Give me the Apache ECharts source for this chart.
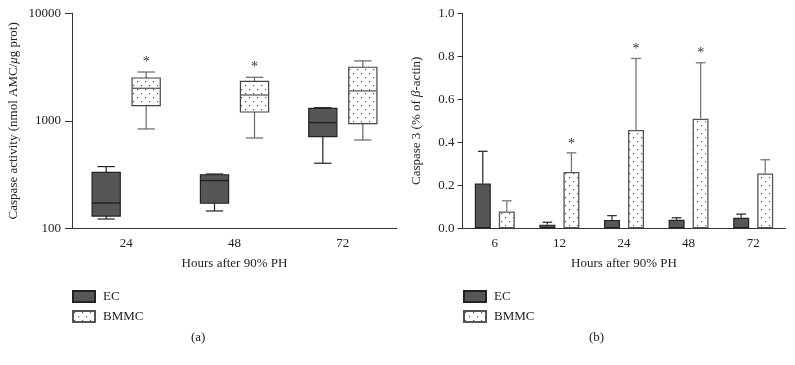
<!DOCTYPE html>
<html><head><meta charset="utf-8">
<script src="https://cdn.jsdelivr.net/npm/echarts@6/dist/echarts.min.js"></script>
<style>html,body{margin:0;padding:0;background:#fff}#c{width:795px;height:365px}</style>
</head><body><div id="c"></div>
<script>
// ---- Panel (a): caspase activity box plots (min, Q1, median, Q3, max) ----
const hoursA = ['24', '48', '72'];
const ecBox = [
  [122, 130, 172, 332, 375],
  [145, 171, 278, 315, 320],
  [403, 713, 961, 1306, 1324]
];
const bmmcBox = [
  [840, 1384, 2005, 2500, 2844],
  [692, 1208, 1738, 2330, 2540],
  [663, 942, 1897, 3148, 3606]
];
const sigA = [1, 1, 0];
const yTicksA = [100, 1000, 10000];

// ---- Panel (b): caspase 3 bars (mean) and upper error ----
const hoursB = ['6', '12', '24', '48', '72'];
const ecMean = [0.208, 0.017, 0.039, 0.040, 0.049];
const ecErr = [0.358, 0.028, 0.059, 0.049, 0.066];
const bmmcMean = [0.078, 0.262, 0.457, 0.510, 0.255];
const bmmcErr = [0.128, 0.351, 0.790, 0.770, 0.319];
const sigB = [0, 1, 1, 1, 0];

const FONT = '"Liberation Serif", "DejaVu Serif", serif';
const DARK = '#565656';

function makeDots() {
  const c = document.createElement('canvas');
  c.width = 8; c.height = 8;
  const g = c.getContext('2d');
  g.fillStyle = '#ffffff'; g.fillRect(0, 0, 8, 8);
  g.fillStyle = '#555555';
  g.fillRect(1, 1, 1.2, 1.2);
  g.fillRect(5, 5, 1.2, 1.2);
  return c;
}
const dots = makeDots();
const dotFill = { image: dots, repeat: 'repeat' };

function boxRender(offRatio, isB, sig) {
  return function (params, api) {
    const ci = api.value(0);
    const band = api.size([1, 0])[0];
    const cx = api.coord([ci, api.value(3)])[0] + band * offRatio;
    const w = band * 0.26;
    const cap = band * 0.16;
    const y = (i) => api.coord([ci, api.value(i)])[1];
    const yMin = y(1), yQ1 = y(2), yMed = y(3), yQ3 = y(4), yMax = y(5);
    const lineCol = isB ? '#666' : '#222';
    const ls = { stroke: lineCol, lineWidth: 1.2 };
    const children = [
      { type: 'line', shape: { x1: cx, y1: yMax, x2: cx, y2: yQ3 }, style: ls },
      { type: 'line', shape: { x1: cx, y1: yQ1, x2: cx, y2: yMin }, style: ls },
      { type: 'line', shape: { x1: cx - cap / 2, y1: yMax, x2: cx + cap / 2, y2: yMax }, style: ls },
      { type: 'line', shape: { x1: cx - cap / 2, y1: yMin, x2: cx + cap / 2, y2: yMin }, style: ls },
      { type: 'rect', shape: { x: cx - w / 2, y: yQ3, width: w, height: yQ1 - yQ3 },
        style: { fill: isB ? dotFill : DARK, stroke: isB ? '#444' : '#222', lineWidth: 1.2 } },
      { type: 'line', shape: { x1: cx - w / 2, y1: yMed, x2: cx + w / 2, y2: yMed },
        style: { stroke: isB ? '#666' : '#222', lineWidth: 1.4 } }
    ];
    if (sig && sig[ci]) {
      children.push({ type: 'text', style: { text: '*', x: cx, y: yMax - 3, align: 'center', verticalAlign: 'bottom',
        font: '14px ' + FONT, fill: '#333' } });
    }
    return { type: 'group', children };
  };
}

function errRender(offRatio, isB, sig) {
  return function (params, api) {
    const ci = api.value(0);
    const band = api.size([1, 0])[0];
    const p1 = api.coord([ci, api.value(1)]);
    const p2 = api.coord([ci, api.value(2)]);
    const cx = p1[0] + band * offRatio;
    const cap = band * 0.15;
    const ls = { stroke: isB ? '#777' : '#333', lineWidth: 1.3 };
    const children = [
      { type: 'line', shape: { x1: cx, y1: p1[1], x2: cx, y2: p2[1] }, style: ls },
      { type: 'line', shape: { x1: cx - cap / 2, y1: p2[1], x2: cx + cap / 2, y2: p2[1] }, style: ls }
    ];
    if (sig && sig[ci]) {
      children.push({ type: 'text', style: { text: '*', x: cx, y: p2[1] - 2, align: 'center', verticalAlign: 'bottom',
        font: '14px ' + FONT, fill: '#333' } });
    }
    return { type: 'group', children, z2: 10 };
  };
}

const axisLine = { lineStyle: { color: '#333', width: 1 } };
const txt = { fontFamily: FONT, color: '#222', fontSize: 13 };

const chart = echarts.init(document.getElementById('c'), null, { renderer: 'canvas' });
chart.setOption({
  animation: false,
  backgroundColor: '#fff',
  grid: [
    { left: 72, top: 13.3, width: 325, height: 215 },
    { left: 462.5, top: 13.3, width: 323, height: 215 }
  ],
  xAxis: [
    { gridIndex: 0, type: 'category', data: hoursA, axisLine, axisTick: { alignWithLabel: true, length: 5, lineStyle: { color: '#333' } },
      axisLabel: { ...txt, margin: 9 }, name: 'Hours after 90% PH', nameLocation: 'middle', nameGap: 29, nameTextStyle: { ...txt } },
    { gridIndex: 1, type: 'category', data: hoursB, axisLine, axisTick: { alignWithLabel: true, length: 5, lineStyle: { color: '#333' } },
      axisLabel: { ...txt, margin: 9 }, name: 'Hours after 90% PH', nameLocation: 'middle', nameGap: 29, nameTextStyle: { ...txt } }
  ],
  yAxis: [
    { gridIndex: 0, type: 'log', logBase: 10, min: yTicksA[0], max: yTicksA[yTicksA.length - 1],
      axisLine: { show: true, ...axisLine }, axisTick: { show: true, length: 7, lineStyle: { color: '#333' } },
      minorTick: { show: false }, splitLine: { show: false },
      axisLabel: { ...txt, margin: 11, formatter: (v) => String(Math.round(v)) },
      name: 'Caspase activity (nmol AMC/{i|μ}g prot)', nameLocation: 'middle', nameGap: 52,
      nameTextStyle: { ...txt, rich: { i: { ...txt, fontStyle: 'italic' } } } },
    { gridIndex: 1, type: 'value', min: 0, max: 1, interval: 0.2,
      axisLine: { show: true, ...axisLine }, axisTick: { show: true, length: 5, lineStyle: { color: '#333' } },
      splitLine: { show: false },
      axisLabel: { ...txt, margin: 8, formatter: (v) => v.toFixed(1) },
      name: 'Caspase 3 (% of {i|β}-actin)', nameLocation: 'middle', nameGap: 39,
      nameTextStyle: { ...txt, rich: { i: { ...txt, fontStyle: 'italic' } } } }
  ],
  legend: [
    { left: 72, top: 290, orient: 'vertical', padding: 0, itemWidth: 22, itemHeight: 11, itemGap: 7,
      icon: 'rect', data: ['EC', 'BMMC'], textStyle: { ...txt, padding: [0, 0, 0, 3] }, selectedMode: false },
    { left: 463, top: 290, orient: 'vertical', padding: 0, itemWidth: 22, itemHeight: 11, itemGap: 7,
      icon: 'rect', data: ['EC', 'BMMC'], textStyle: { ...txt, padding: [0, 0, 0, 3] }, selectedMode: false }
  ],
  graphic: [
    { type: 'text', left: 191, top: 331, style: { text: '(a)', font: '13px ' + FONT, fill: '#222' } },
    { type: 'text', left: 589, top: 331, style: { text: '(b)', font: '13px ' + FONT, fill: '#222' } }
  ],
  series: [
    { name: 'EC', type: 'bar', xAxisIndex: 1, yAxisIndex: 1, data: ecMean, barWidth: 16, barGap: '50%',
      itemStyle: { color: DARK, borderColor: '#222', borderWidth: 1.2 } },
    { name: 'BMMC', type: 'bar', xAxisIndex: 1, yAxisIndex: 1, data: bmmcMean, barWidth: 16, barGap: '50%',
      itemStyle: { color: dotFill, borderColor: '#555', borderWidth: 1.3 } },
    { name: 'EC', type: 'custom', xAxisIndex: 1, yAxisIndex: 1, renderItem: errRender(-12 / 64.4, false, null),
      data: ecMean.map((m, i) => [i, m, ecErr[i]]), z: 3 },
    { name: 'BMMC', type: 'custom', xAxisIndex: 1, yAxisIndex: 1, renderItem: errRender(12 / 64.4, true, sigB),
      data: bmmcMean.map((m, i) => [i, m, bmmcErr[i]]), z: 3 },
    { name: 'EC', type: 'custom', xAxisIndex: 0, yAxisIndex: 0, renderItem: boxRender(-20 / 108.3, false, null),
      data: ecBox.map((b, i) => [i, ...b]), encode: { x: 0, y: [1, 2, 3, 4, 5] } },
    { name: 'BMMC', type: 'custom', xAxisIndex: 0, yAxisIndex: 0, renderItem: boxRender(20 / 108.3, true, sigA),
      data: bmmcBox.map((b, i) => [i, ...b]), encode: { x: 0, y: [1, 2, 3, 4, 5] } }
  ]
});
</script>
</body></html>
